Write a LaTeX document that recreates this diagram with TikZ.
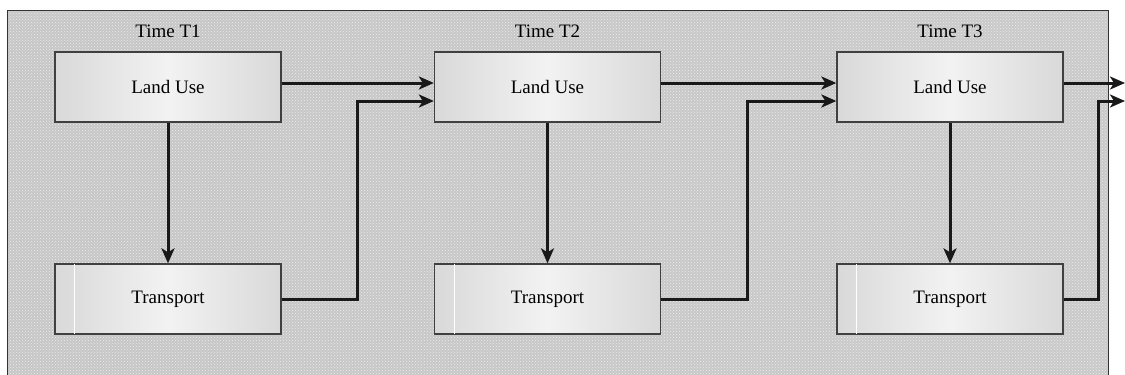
\documentclass[tikz,border=0pt]{standalone}
\usepackage{fontspec}
\setmainfont{Liberation Serif}
\usetikzlibrary{arrows.meta,patterns}
\tikzset{
  box/.style={draw=black!75, line width=1.3pt, minimum width=226pt, minimum height=70pt,
    left color=gray!30, right color=gray!30, middle color=gray!10, font=\fontsize{19}{22}\selectfont},
  timelabel/.style={font=\fontsize{19}{22}\selectfont},
  flow/.style={line width=3pt, black!90, -{Stealth[length=15pt,width=13pt,inset=4pt]}}
}
\begin{document}
\begin{tikzpicture}[x=1pt,y=-1pt]
	\useasboundingbox (0,0) rectangle (1125,375);
	% background panel
	\shade[left color=gray!45, middle color=gray!20, right color=gray!42] (7,10) rectangle (1108,380);
	\fill[pattern=crosshatch dots, pattern color=white!85!gray] (7,10) rectangle (1108,380);
	\draw[black!80, line width=1pt] (7,380) -- (7,10) -- (1108,10) -- (1108,380);

	\node[timelabel] (t1) at (168,31) {Time T1};
	\node[timelabel] (t2) at (547.5,31) {Time T2};
	\node[timelabel] (t3) at (950,31) {Time T3};

	\node[box] (lu1) at (168,87) {Land Use};
	\node[box] (tr1) at (168,299) {Transport};
	\node[box] (lu2) at (547.5,87) {Land Use};
	\node[box] (tr2) at (547.5,299) {Transport};
	\node[box] (lu3) at (950,87) {Land Use};
	\node[box] (tr3) at (950,299) {Transport};

	\draw[white, line width=0.7pt] ([xshift=20pt,yshift=1pt]tr1.south west) -- ([xshift=20pt,yshift=-1pt]tr1.north west);
	\draw[white, line width=0.7pt] ([xshift=20pt,yshift=1pt]tr2.south west) -- ([xshift=20pt,yshift=-1pt]tr2.north west);
	\draw[white, line width=0.7pt] ([xshift=20pt,yshift=1pt]tr3.south west) -- ([xshift=20pt,yshift=-1pt]tr3.north west);

	\coordinate (out1) at (1125,83);
	\coordinate (out2) at (1125,101);

	\draw[flow] (lu1) -- (tr1);
	\draw[flow] (lu2) -- (tr2);
	\draw[flow] (lu3) -- (tr3);

	\draw[flow] ([yshift=4pt]lu1.east) -- ([yshift=4pt]lu2.west);
	\draw[flow] ([yshift=4pt]lu2.east) -- ([yshift=4pt]lu3.west);
	\draw[flow] ([yshift=4pt]lu3.east) -- (out1);

	\draw[flow] (tr1.east) -| ++(76,0) |- ([yshift=-14pt]lu2.west);
	\draw[flow] (tr2.east) -| ++(86,0) |- ([yshift=-14pt]lu3.west);
	\draw[flow] (tr3.east) -| ++(35,0) |- (out2);
\end{tikzpicture}
\end{document}
